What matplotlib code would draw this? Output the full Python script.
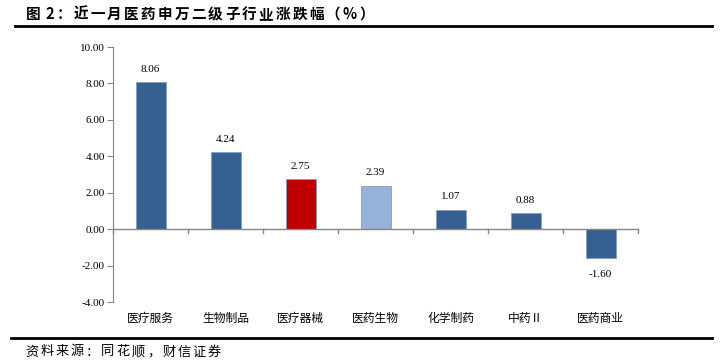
import matplotlib
matplotlib.use("Agg")
import matplotlib.pyplot as plt
import numpy as np

plt.rcParams['font.family'] = ['Liberation Serif', 'Noto Sans CJK SC', 'DejaVu Sans']

categories = ["医疗服务", "生物制品", "医疗器械", "医药生物", "化学制药", "中药Ⅱ", "医药商业"]
values = [8.06, 4.24, 2.75, 2.39, 1.07, 0.88, -1.60]
yticks = [-4, -2, 0, 2, 4, 6, 8, 10]
title = "图 2：近一月医药申万二级子行业涨跌幅（%）"
source = "资料来源：同花顺，财信证券"

DARK, RED, LIGHT = "#376092", "#C00000", "#95B3D7"
colors = [DARK, DARK, RED, LIGHT, DARK, DARK, DARK]
AXC = "#868686"
CJK = ['Noto Sans CJK SC', 'DejaVu Sans']

fig = plt.figure(figsize=(7.24, 3.61), dpi=100)
ax = fig.add_axes([113/724, 59/361, 525/724, 255/361])
x = np.arange(len(categories))
ax.bar(x, values, width=0.4, color=colors, edgecolor="#7f9fc4", linewidth=0.6, zorder=3)
for xi, v in zip(x, values):
    if v >= 0:
        ax.text(xi, v + 0.45, f"{v:.2f}", ha="center", va="bottom", fontsize=8)
    else:
        ax.text(xi, v - 0.65, f"{v:.2f}", ha="center", va="top", fontsize=8)

ax.set_xlim(-0.5, len(categories) - 0.5)
ax.set_ylim(-4, 10)
ax.set_yticks(yticks)
ax.set_yticklabels([f"{t:.2f}" for t in yticks], fontsize=8)
for s in ("top", "right", "bottom"):
    ax.spines[s].set_visible(False)
ax.spines["left"].set_color(AXC)
ax.axhline(0, color=AXC, lw=1, zorder=4)
ax.tick_params(axis="y", direction="out", length=4, color=AXC, pad=2)
ax.set_xticks([])
for b in np.arange(-0.5, len(categories), 1.0):
    ax.plot([b, b], [0, -0.22], color=AXC, lw=1, zorder=4, clip_on=False)
for xi, c in zip(x, categories):
    ax.text(xi, -4.9, c, ha="center", va="center", fontsize=8.5, family=CJK)


def spaced_text(s, x0, y0, gap, **kw):
    # draw a string glyph by glyph with extra spacing (pixels)
    r = fig.canvas.get_renderer()
    xp = x0
    for ch in s:
        if ch == " ":
            xp += 3
            continue
        t = fig.text(xp / 724, 1 - y0 / 361, ch, va="center", ha="left", family=CJK, **kw)
        bb = t.get_window_extent(r)
        xp += bb.width + gap


spaced_text(title, 26, 14, 2.2, fontsize=10.5, fontweight="bold")
fig.add_artist(plt.Line2D([15/724, 712/724], [1 - 26/361, 1 - 26/361], color="black", lw=2))
fig.add_artist(plt.Line2D([11/724, 712/724], [1 - 338/361, 1 - 338/361], color="black", lw=2))
spaced_text(source, 25, 352, 2.0, fontsize=9.5, style="italic")

fig.savefig("out.png", dpi=100)
